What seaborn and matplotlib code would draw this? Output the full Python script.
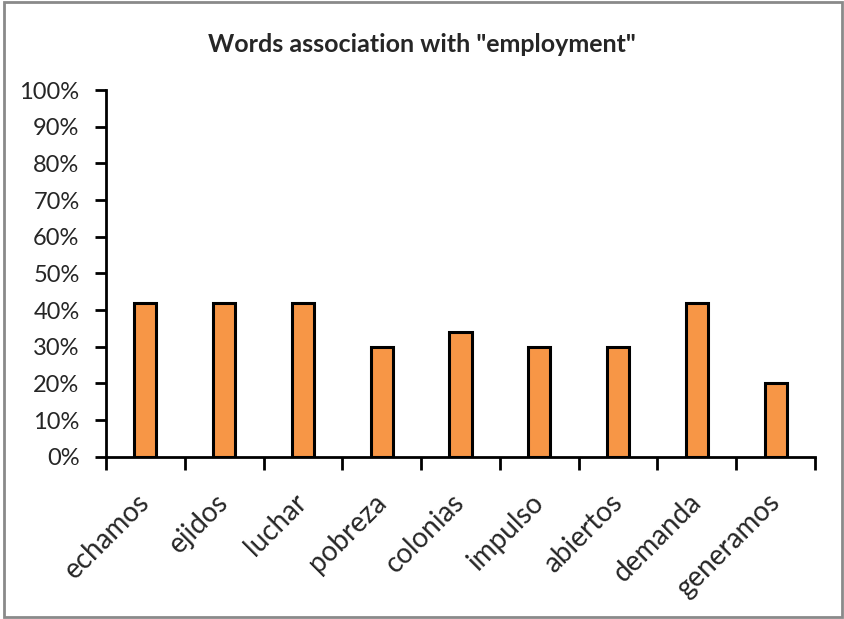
import matplotlib
matplotlib.use("Agg")
import matplotlib.pyplot as plt
import seaborn as sns
import pandas as pd
from matplotlib.patches import Rectangle
from matplotlib.ticker import MultipleLocator, PercentFormatter

words = ['echamos', 'ejidos', 'luchar', 'pobreza', 'colonias',
         'impulso', 'abiertos', 'demanda', 'generamos']
shares = [0.42, 0.42, 0.42, 0.30, 0.34, 0.30, 0.30, 0.42, 0.20]

df = pd.DataFrame({'word': words, 'share': shares})

sns.set_style('white')
plt.rcParams['font.family'] = ['Lato', 'DejaVu Sans']

fig = plt.figure(figsize=(8.44, 6.19), dpi=100)
ax = fig.add_axes([0.1256, 0.2622, 0.9656 - 0.1256, 0.8546 - 0.2622])

sns.barplot(data=df, x='word', y='share', color='#F79646', saturation=1,
            width=0.28, edgecolor='black', linewidth=2.2, ax=ax)

ax.set_ylim(0, 1)
ax.set_xlim(-0.5, len(words) - 0.5)
ax.yaxis.set_major_locator(MultipleLocator(0.1))
ax.yaxis.set_major_formatter(PercentFormatter(1.0, decimals=0))

# category boundary ticks on the x axis
ax.set_xticks([i - 0.5 for i in range(len(words) + 1)], minor=False)
ax.set_xticklabels([])
ax.set_xticks(range(len(words)), minor=True)
ax.set_xticklabels(words, minor=True, rotation=45, ha='right', va='center',
                   rotation_mode='anchor', fontsize=20)
ax.tick_params(axis='x', which='major', bottom=True, direction='out',
               length=9, width=2, color='black')
ax.tick_params(axis='x', which='minor', bottom=True, length=0, pad=30)
ax.tick_params(axis='y', left=True, direction='out', length=8, width=2,
               color='black', labelsize=17, pad=11)

for side in ['top', 'right']:
    ax.spines[side].set_visible(False)
for side in ['left', 'bottom']:
    ax.spines[side].set_linewidth(2)
    ax.spines[side].set_color('black')

ax.set_xlabel('')
ax.set_ylabel('')
ax.grid(False)

fig.text(0.5, 1 - 45 / 619, 'Words association with "employment"',
         ha='center', va='center', fontsize=18, fontweight='bold')

fig.patches.append(Rectangle((4 / 844, 2 / 619), 838 / 844, 615 / 619,
                             transform=fig.transFigure, fill=False,
                             edgecolor='#8a8a8a', linewidth=2))

fig.savefig('out.png', dpi=100)
